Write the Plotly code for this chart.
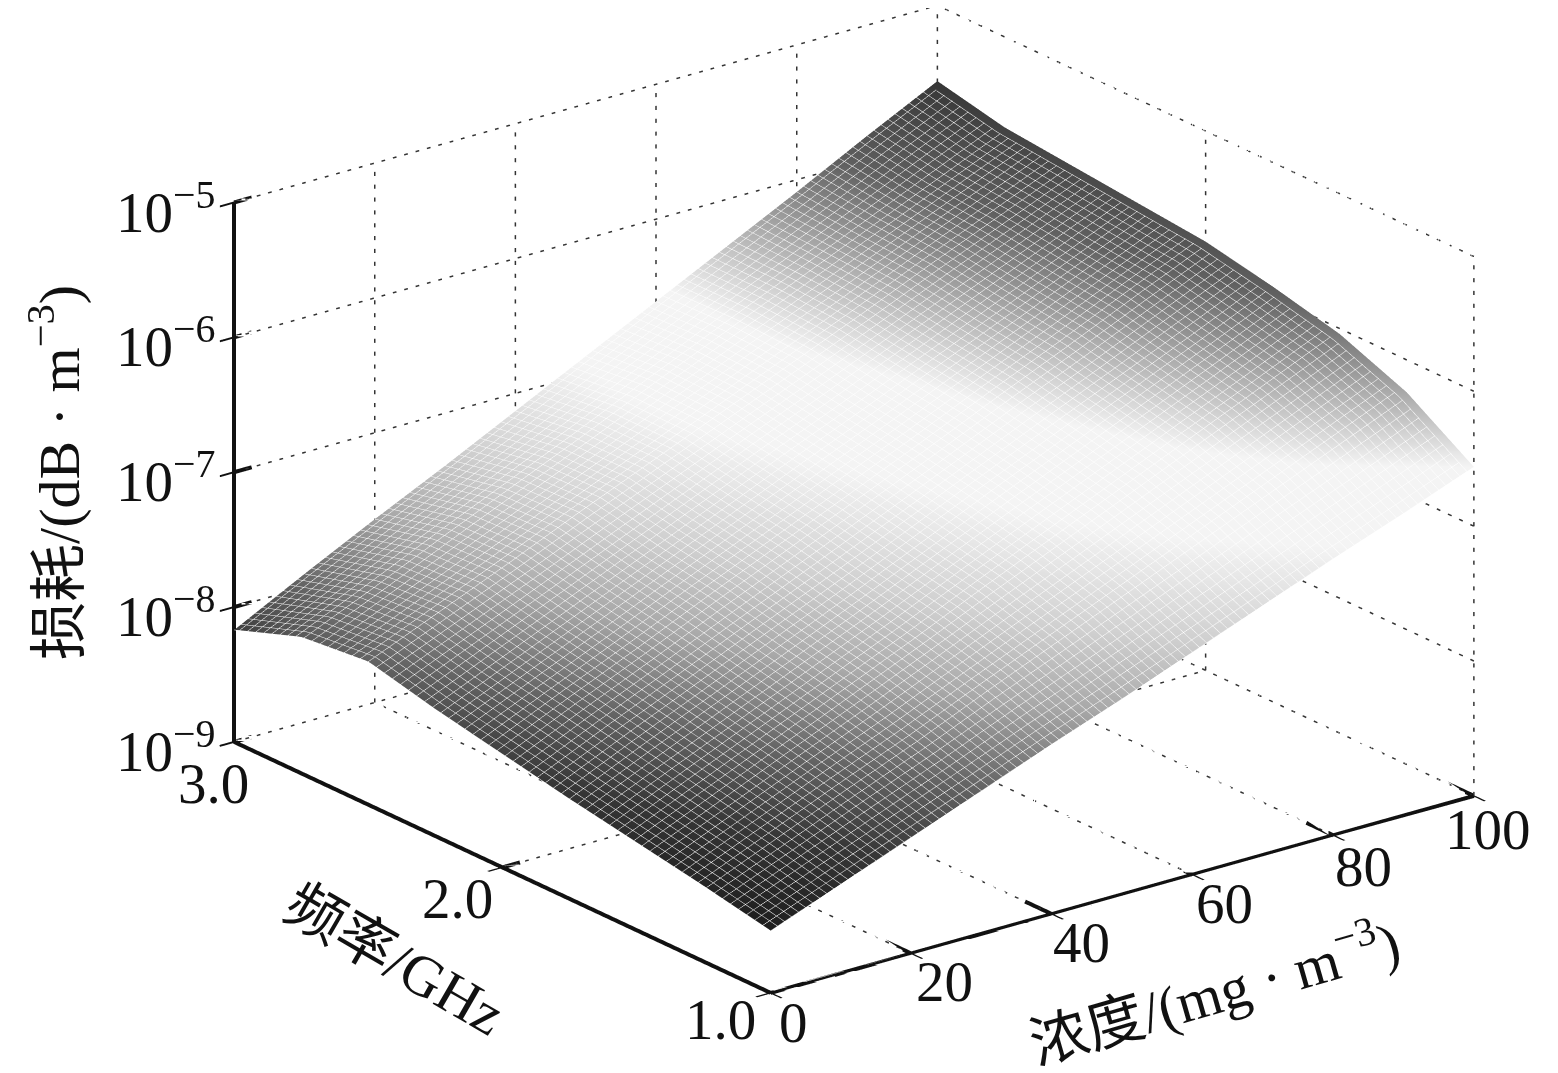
import plotly.graph_objects as go

# Data
concentration = [0, 10, 20, 30, 40, 50, 60, 70, 80, 90, 100]
frequency = [1.0, 1.25, 1.5, 1.75, 2.0, 2.25, 2.5, 2.75, 3.0]
loss_exp = [
    [-8.54, -8.34, -8.14, -7.94, -7.74, -7.55, -7.35, -7.15, -6.95, -6.76, -6.56],
    [-8.44, -8.22, -8.00, -7.79, -7.56, -7.34, -7.12, -6.90, -6.68, -6.46, -6.24],
    [-8.35, -8.12, -7.89, -7.66, -7.43, -7.19, -6.96, -6.73, -6.50, -6.27, -6.04],
    [-8.26, -8.02, -7.79, -7.56, -7.33, -7.09, -6.85, -6.62, -6.39, -6.16, -5.92],
    [-8.16, -7.92, -7.69, -7.45, -7.22, -6.99, -6.76, -6.52, -6.29, -6.05, -5.82],
    [-8.06, -7.83, -7.60, -7.37, -7.14, -6.91, -6.69, -6.46, -6.23, -6.00, -5.77],
    [-7.94, -7.72, -7.50, -7.27, -7.05, -6.83, -6.61, -6.39, -6.16, -5.94, -5.72],
    [-7.99, -7.76, -7.52, -7.29, -7.06, -6.82, -6.59, -6.36, -6.13, -5.90, -5.67],
    [-8.17, -7.90, -7.64, -7.39, -7.13, -6.87, -6.61, -6.35, -6.09, -5.82, -5.56],
]
x_ticks = [0, 20, 40, 60, 80, 100]
x_labels = ["0", "20", "40", "60", "80", "100"]
y_ticks = [1.0, 2.0, 3.0]
y_labels = ["1.0", "2.0", "3.0"]
z_exps = [-9, -8, -7, -6, -5]
z_labels = ["10<sup>−9</sup>", "10<sup>−8</sup>", "10<sup>−7</sup>", "10<sup>−6</sup>", "10<sup>−5</sup>"]

XMIN, XMAX = x_ticks[0], x_ticks[-1]
YMIN, YMAX = y_ticks[0], y_ticks[-1]
ZMIN, ZMAX = 10.0 ** z_exps[0], 10.0 ** z_exps[-1]

z_vals = [[10.0 ** v for v in row] for row in loss_exp]

scale = [
    [0.00, "#181818"], [0.12, "#363636"], [0.22, "#666666"], [0.32, "#a8a8a8"],
    [0.42, "#d0d0d0"], [0.55, "#f4f4f4"], [0.66, "#f4f4f4"], [0.76, "#aaaaaa"],
    [0.86, "#606060"], [1.00, "#303030"],
]

fig = go.Figure()


def segs(pairs, color, width):
    xs, ys, zs = [], [], []
    for a, b in pairs:
        xs += [a[0], b[0], None]
        ys += [a[1], b[1], None]
        zs += [a[2], b[2], None]
    fig.add_trace(go.Scatter3d(x=xs, y=ys, z=zs, mode="lines", hoverinfo="skip", showlegend=False,
                               line=dict(color=color, width=width)))


def dotted(a, b, n, duty=0.32):
    """Short pieces along the grid line from a to b (z is given as exponent)."""
    out = []
    for i in range(n):
        t0, t1 = i / n, (i + duty) / n
        p = [tuple(a[k] + (b[k] - a[k]) * t for k in range(3)) for t in (t0, t1)]
        out.append(((p[0][0], p[0][1], 10.0 ** p[0][2]), (p[1][0], p[1][1], 10.0 ** p[1][2])))
    return out


EMIN, EMAX = z_exps[0], z_exps[-1]
NX, NY, NZ = 62, 48, 42
grid = []
for e in z_exps:
    grid += dotted((XMIN, YMAX, e), (XMAX, YMAX, e), NX)
    grid += dotted((XMAX, YMIN, e), (XMAX, YMAX, e), NY)
for x in x_ticks[1:]:
    grid += dotted((x, YMAX, EMIN), (x, YMAX, EMAX), NZ)
    grid += dotted((x, YMIN, EMIN), (x, YMAX, EMIN), NY)
for y in y_ticks:
    grid += dotted((XMAX, y, EMIN), (XMAX, y, EMAX), NZ)
grid += dotted((XMIN, y_ticks[1], EMIN), (XMAX, y_ticks[1], EMIN), NX)
segs(grid, "#333333", 3)

fig.add_trace(go.Surface(
    x=concentration, y=frequency, z=z_vals, surfacecolor=loss_exp,
    colorscale=scale, cmin=-8.6, cmax=-5.5, showscale=False, hoverinfo="skip",
    lighting=dict(ambient=1, diffuse=0, specular=0, roughness=1, fresnel=0),
    contours=dict(
        x=dict(show=True, start=XMIN, end=XMAX, size=1, color="#ffffff", width=3),
        y=dict(show=True, start=YMIN, end=YMAX, size=0.03, color="#ffffff", width=3),
        z=dict(show=False),
    ),
))

# Heavier front edges and tick marks drawn over the scene's own axis lines
axes = [
    ((XMIN, YMAX, ZMIN), (XMIN, YMAX, ZMAX)),
    ((XMIN, YMAX, ZMIN), (XMIN, YMIN, ZMIN)),
    ((XMIN, YMIN, ZMIN), (XMAX, YMIN, ZMIN)),
]
for x in x_ticks[1:]:
    axes.append(((x, YMIN, ZMIN), (x, YMIN + 0.1, ZMIN)))
axes.append(((XMIN, y_ticks[1], ZMIN), (XMIN + 2.5, y_ticks[1], ZMIN)))
for e in z_exps:
    z = 10.0 ** e
    axes.append(((XMIN, YMAX, z), (XMIN + 2.5, YMAX, z)))
segs(axes, "#111111", 8)

FS = 57
tick_font = dict(family="Liberation Serif", size=FS, color="#111111")
title_font = dict(family="Liberation Serif, Noto Sans CJK SC", size=58, color="#111111")
ann = []


def label(x, y, z, text, dx, dy, font=tick_font, angle=0):
    ann.append(dict(x=x, y=y, z=z, text=text, showarrow=False, xshift=dx, yshift=dy,
                    font=font, textangle=angle, xanchor="center", yanchor="middle"))


for e, t in zip(z_exps, z_labels):
    label(XMIN, YMAX, e, t, -68, -5)
for x, t, dx, dy in zip(x_ticks, x_labels, [23, 34, 30, 32, 31, 15], [-29, -28, -28, -29, -31, -33]):
    label(x, YMIN, z_exps[0], t, dx, dy)
for y, t, dx, dy in zip(y_ticks, y_labels, [-50, -44, -20], [-26, -31, -41]):
    label(XMIN, y, z_exps[0], t, dx, dy)

label(XMIN, YMAX, -7, "损耗/(dB · m<sup>−3</sup>)", -179, 0, title_font, -90)
label(XMIN, 2.0, z_exps[0], "频率/GHz", -107, -92, title_font, 30)
label(60, YMIN, z_exps[0], "浓度/(mg · m<sup>−3</sup>)", 22, -115, title_font, -16)

shown = dict(visible=True, showgrid=False, showline=True, linecolor="#111111", linewidth=5,
             showticklabels=False, showbackground=False, zeroline=False, showspikes=False, title="",
             ticks="inside", tickcolor="#111111", tickwidth=4, ticklen=18, tickmode="array")

EYE_R = 3.0
fig.update_layout(
    width=1558, height=1073, paper_bgcolor="white", plot_bgcolor="white",
    margin=dict(l=0, r=0, t=0, b=0), showlegend=False,
    scene=dict(
        domain=dict(x=[0.0902, 0.9952], y=[0.066, 1.0]),
        xaxis=dict(range=[XMIN, XMAX], tickvals=x_ticks, **shown),
        yaxis=dict(range=[YMIN, YMAX], tickvals=y_ticks, **shown),
        zaxis=dict(type="log", range=[z_exps[0], z_exps[-1]], tickvals=[10.0 ** e for e in z_exps], **shown),
        aspectmode="manual", aspectratio=dict(x=1.775, y=1.75, z=1.155),
        camera=dict(projection=dict(type="orthographic"), up=dict(x=0, y=0, z=1),
                    center=dict(x=0, y=0, z=-0.021),
                    eye=dict(x=-1.71 * EYE_R, y=-2.21 * EYE_R, z=1.085 * EYE_R - 0.021)),
        annotations=ann,
    ),
)
fig.write_html("out.html")
